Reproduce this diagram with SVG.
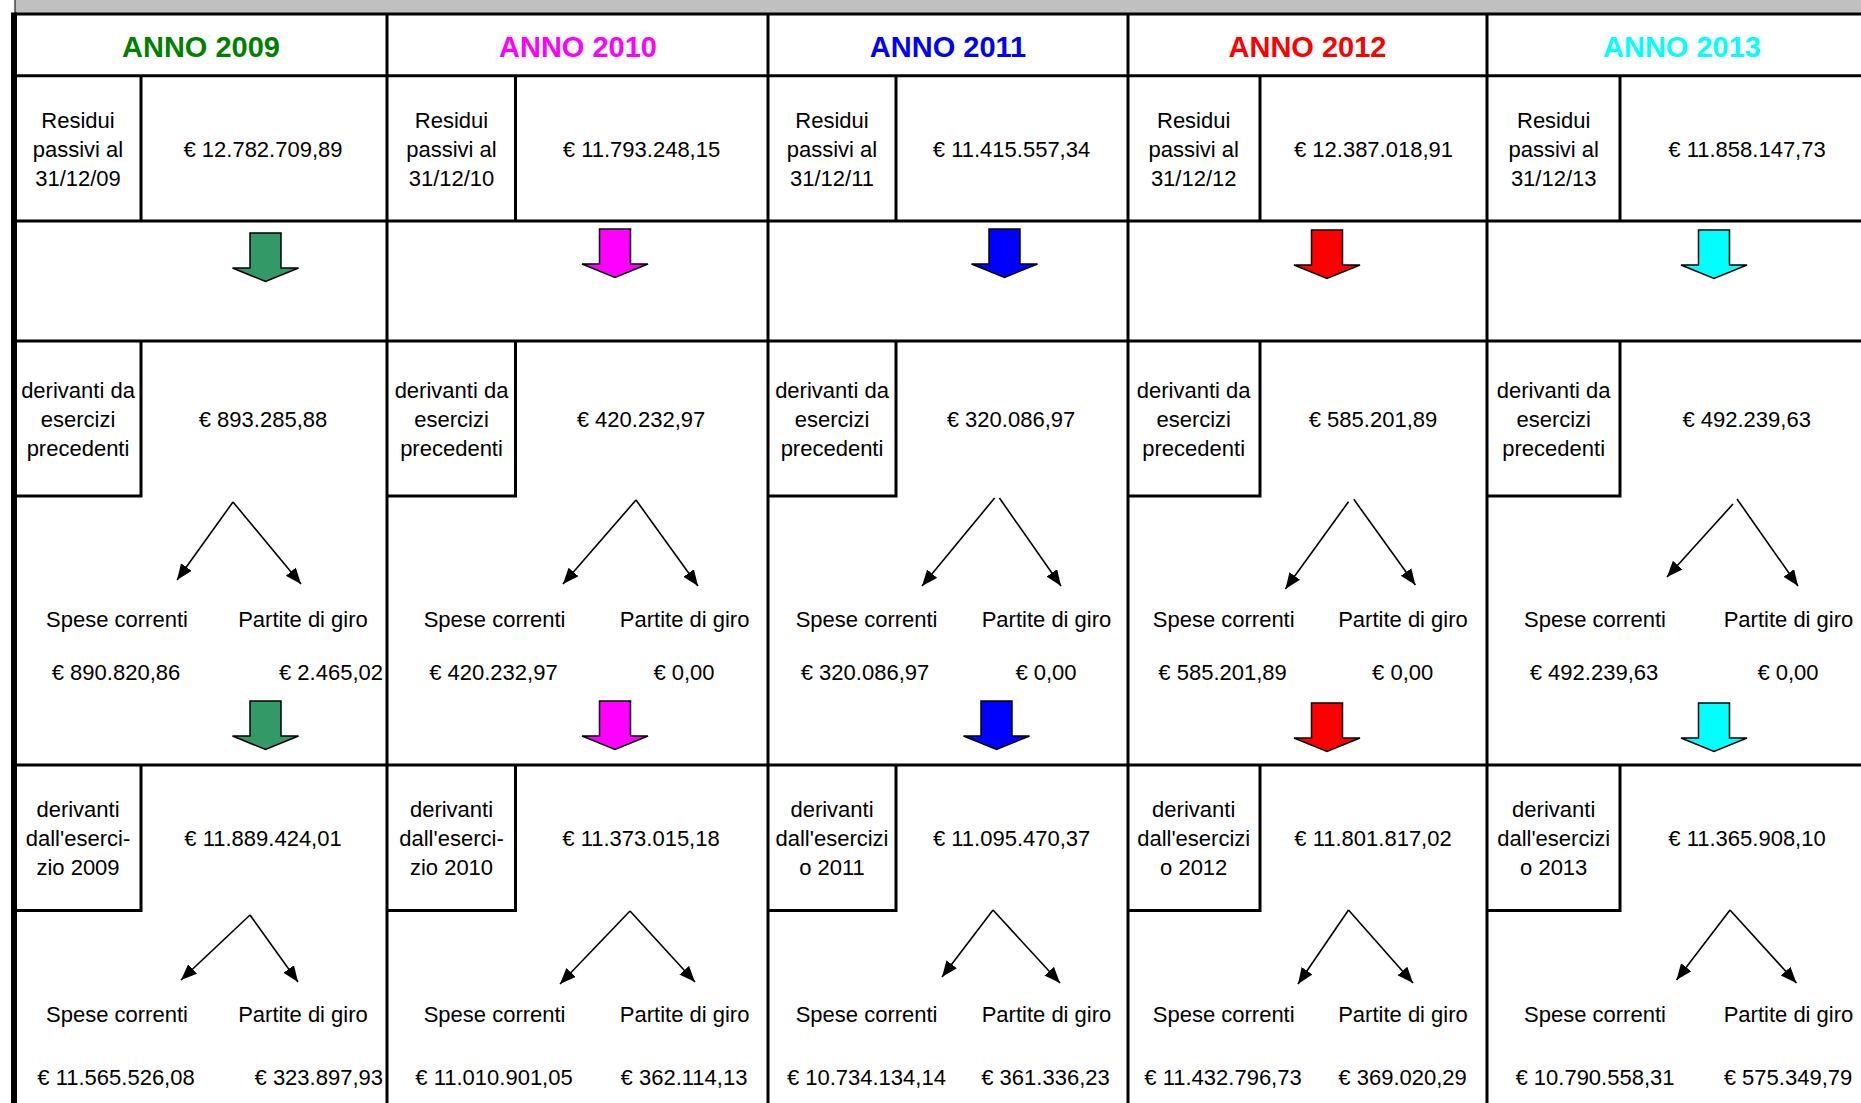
<svg xmlns="http://www.w3.org/2000/svg" width="1861" height="1103" viewBox="0 0 1861 1103">
<defs>
<style>
.grid{stroke:#000;stroke-width:3;fill:none}
.t{font-family:"Liberation Sans",Arial,sans-serif;font-size:22px;fill:#000;text-anchor:middle}
.e{text-anchor:end}
.h{font-family:"Liberation Sans",Arial,sans-serif;font-size:29px;font-weight:bold;text-anchor:middle}
.split{stroke:#000;stroke-width:1.6;fill:none;marker-end:url(#ah)}
.blk{stroke:#000;stroke-width:1.5;stroke-linejoin:miter}
</style>
<marker id="ah" markerUnits="userSpaceOnUse" markerWidth="18" markerHeight="14" refX="16" refY="6.5" orient="auto">
<path d="M0,0 L16,6.5 L0,13 Z" fill="#000"/>
</marker>
<path id="barrow" d="M-15.5,0 H15.5 V35 H33 L0,48.5 L-33,35 H-15.5 Z"/>
</defs>
<rect x="0" y="0" width="1861" height="1103" fill="#fff"/>
<rect x="15" y="0" width="1846" height="13" fill="#c0c0c0"/>
<line x1="15" y1="0" x2="15" y2="13" stroke="#444" stroke-width="1.5"/>

<g id="grid" class="grid">
<line x1="14" y1="14" x2="1861" y2="14"/>
<line x1="14" y1="75.7" x2="1861" y2="75.7"/>
<line x1="14" y1="221" x2="1861" y2="221"/>
<line x1="14" y1="341" x2="1861" y2="341"/>
<line x1="14" y1="765" x2="1861" y2="765"/>
<line x1="14" y1="12.5" x2="14" y2="1103" stroke-width="6"/>
<line x1="387" y1="14" x2="387" y2="1103"/>
<line x1="768" y1="14" x2="768" y2="1103"/>
<line x1="1128" y1="14" x2="1128" y2="1103"/>
<line x1="1487" y1="14" x2="1487" y2="1103"/>
</g>

<g id="col2009">
<g id="h2009"><text class="h" x="201" y="56.5" fill="#008000">ANNO 2009</text></g>
<g id="res2009"><line class="grid" x1="141" y1="75.7" x2="141" y2="221"/>
<text class="t" x="78" y="128">Residui</text><text class="t" x="78" y="157">passivi al</text><text class="t" x="78" y="186">31/12/09</text>
<text class="t" x="263" y="157">€ 12.782.709,89</text></g>
<g id="prec2009"><path class="grid" d="M141,341 V496 H14"/>
<text class="t" x="78" y="398">derivanti da</text><text class="t" x="78" y="427">esercizi</text><text class="t" x="78" y="456">precedenti</text>
<text class="t" x="263" y="427">€ 893.285,88</text>
<text class="t" x="117" y="627">Spese correnti</text><text class="t" x="303" y="627">Partite di giro</text>
<text class="t" x="116" y="680">€ 890.820,86</text><text class="t e" x="383" y="680">€ 2.465,02</text></g>
<g id="cur2009"><path class="grid" d="M141,765 V910.5 H14"/>
<text class="t" x="78" y="817">derivanti</text><text class="t" x="78" y="846">dall'eserci-</text><text class="t" x="78" y="875">zio 2009</text>
<text class="t" x="263" y="846">€ 11.889.424,01</text>
<text class="t" x="117" y="1022">Spese correnti</text><text class="t" x="303" y="1022">Partite di giro</text>
<text class="t" x="116" y="1085">€ 11.565.526,08</text><text class="t e" x="383" y="1085">€ 323.897,93</text></g>
</g>

<g id="col2010">
<g id="h2010"><text class="h" x="578" y="56.5" fill="#ff00ff">ANNO 2010</text></g>
<g id="res2010"><line class="grid" x1="515.5" y1="75.7" x2="515.5" y2="221"/>
<text class="t" x="451.5" y="128">Residui</text><text class="t" x="451.5" y="157">passivi al</text><text class="t" x="451.5" y="186">31/12/10</text>
<text class="t" x="641.5" y="157">€ 11.793.248,15</text></g>
<g id="prec2010"><path class="grid" d="M515.5,341 V496 H387"/>
<text class="t" x="451.5" y="398">derivanti da</text><text class="t" x="451.5" y="427">esercizi</text><text class="t" x="451.5" y="456">precedenti</text>
<text class="t" x="641" y="427">€ 420.232,97</text>
<text class="t" x="494.6" y="627">Spese correnti</text><text class="t" x="684.6" y="627">Partite di giro</text>
<text class="t" x="493.4" y="680">€ 420.232,97</text><text class="t" x="684" y="680">€ 0,00</text></g>
<g id="cur2010"><path class="grid" d="M515.5,765 V910.5 H387"/>
<text class="t" x="451.5" y="817">derivanti</text><text class="t" x="451.5" y="846">dall'eserci-</text><text class="t" x="451.5" y="875">zio 2010</text>
<text class="t" x="641" y="846">€ 11.373.015,18</text>
<text class="t" x="494.6" y="1022">Spese correnti</text><text class="t" x="684.6" y="1022">Partite di giro</text>
<text class="t" x="494" y="1085">€ 11.010.901,05</text><text class="t" x="684" y="1085">€ 362.114,13</text></g>
</g>

<g id="col2011">
<g id="h2011"><text class="h" x="948" y="56.5" fill="#0000ff">ANNO 2011</text></g>
<g id="res2011"><line class="grid" x1="896" y1="75.7" x2="896" y2="221"/>
<text class="t" x="832" y="128">Residui</text><text class="t" x="832" y="157">passivi al</text><text class="t" x="832" y="186">31/12/11</text>
<text class="t" x="1011.5" y="157">€ 11.415.557,34</text></g>
<g id="prec2011"><path class="grid" d="M896,341 V496 H768"/>
<text class="t" x="832" y="398">derivanti da</text><text class="t" x="832" y="427">esercizi</text><text class="t" x="832" y="456">precedenti</text>
<text class="t" x="1011" y="427">€ 320.086,97</text>
<text class="t" x="866.6" y="627">Spese correnti</text><text class="t" x="1046.5" y="627">Partite di giro</text>
<text class="t" x="865" y="680">€ 320.086,97</text><text class="t" x="1046" y="680">€ 0,00</text></g>
<g id="cur2011"><path class="grid" d="M896,765 V910.5 H768"/>
<text class="t" x="832" y="817">derivanti</text><text class="t" x="832" y="846">dall'esercizi</text><text class="t" x="832" y="875">o 2011</text>
<text class="t" x="1011.6" y="846">€ 11.095.470,37</text>
<text class="t" x="866.6" y="1022">Spese correnti</text><text class="t" x="1046.5" y="1022">Partite di giro</text>
<text class="t" x="866.4" y="1085">€ 10.734.134,14</text><text class="t" x="1045.5" y="1085">€ 361.336,23</text></g>
</g>

<g id="col2012">
<g id="h2012"><text class="h" x="1307.5" y="56.5" fill="#ff0000">ANNO 2012</text></g>
<g id="res2012"><line class="grid" x1="1260" y1="75.7" x2="1260" y2="221"/>
<text class="t" x="1193.7" y="128">Residui</text><text class="t" x="1193.7" y="157">passivi al</text><text class="t" x="1193.7" y="186">31/12/12</text>
<text class="t" x="1373.5" y="157">€ 12.387.018,91</text></g>
<g id="prec2012"><path class="grid" d="M1260,341 V496 H1128"/>
<text class="t" x="1193.7" y="398">derivanti da</text><text class="t" x="1193.7" y="427">esercizi</text><text class="t" x="1193.7" y="456">precedenti</text>
<text class="t" x="1373" y="427">€ 585.201,89</text>
<text class="t" x="1223.7" y="627">Spese correnti</text><text class="t" x="1403" y="627">Partite di giro</text>
<text class="t" x="1222.6" y="680">€ 585.201,89</text><text class="t" x="1402.7" y="680">€ 0,00</text></g>
<g id="cur2012"><path class="grid" d="M1260,765 V910.5 H1128"/>
<text class="t" x="1193.7" y="817">derivanti</text><text class="t" x="1193.7" y="846">dall'esercizi</text><text class="t" x="1193.7" y="875">o 2012</text>
<text class="t" x="1373" y="846">€ 11.801.817,02</text>
<text class="t" x="1223.7" y="1022">Spese correnti</text><text class="t" x="1403" y="1022">Partite di giro</text>
<text class="t" x="1223" y="1085">€ 11.432.796,73</text><text class="t" x="1402.6" y="1085">€ 369.020,29</text></g>
</g>

<g id="col2013">
<g id="h2013"><text class="h" x="1682" y="56.5" fill="#00ffff">ANNO 2013</text></g>
<g id="res2013"><line class="grid" x1="1620" y1="75.7" x2="1620" y2="221"/>
<text class="t" x="1553.7" y="128">Residui</text><text class="t" x="1553.7" y="157">passivi al</text><text class="t" x="1553.7" y="186">31/12/13</text>
<text class="t" x="1747" y="157">€ 11.858.147,73</text></g>
<g id="prec2013"><path class="grid" d="M1620,341 V496 H1487"/>
<text class="t" x="1553.7" y="398">derivanti da</text><text class="t" x="1553.7" y="427">esercizi</text><text class="t" x="1553.7" y="456">precedenti</text>
<text class="t" x="1746.7" y="427">€ 492.239,63</text>
<text class="t" x="1595" y="627">Spese correnti</text><text class="t" x="1788.5" y="627">Partite di giro</text>
<text class="t" x="1594" y="680">€ 492.239,63</text><text class="t" x="1788" y="680">€ 0,00</text></g>
<g id="cur2013"><path class="grid" d="M1620,765 V910.5 H1487"/>
<text class="t" x="1553.7" y="817">derivanti</text><text class="t" x="1553.7" y="846">dall'esercizi</text><text class="t" x="1553.7" y="875">o 2013</text>
<text class="t" x="1747" y="846">€ 11.365.908,10</text>
<text class="t" x="1595" y="1022">Spese correnti</text><text class="t" x="1788.5" y="1022">Partite di giro</text>
<text class="t" x="1595" y="1085">€ 10.790.558,31</text><text class="t" x="1788" y="1085">€ 575.349,79</text></g>
</g>

<g id="connectors">
<g class="blk">
<use href="#barrow" x="265.5" y="233" fill="#339966"/>
<use href="#barrow" x="615" y="229" fill="#ff00ff"/>
<use href="#barrow" x="1004.5" y="229" fill="#0000ff"/>
<use href="#barrow" x="1327" y="230" fill="#ff0000"/>
<use href="#barrow" x="1714" y="230" fill="#00ffff"/>
<use href="#barrow" x="265.5" y="701" fill="#339966"/>
<use href="#barrow" x="615" y="701" fill="#ff00ff"/>
<use href="#barrow" x="996.5" y="701" fill="#0000ff"/>
<use href="#barrow" x="1327" y="703" fill="#ff0000"/>
<use href="#barrow" x="1714" y="703" fill="#00ffff"/>
</g>
<path class="split" d="M233,502 L177,580"/><path class="split" d="M233,502 L301,584"/>
<path class="split" d="M636,500 L563,584"/><path class="split" d="M636,500 L698,586"/>
<path class="split" d="M994.6,498 L922,586"/><path class="split" d="M999.4,498 L1061,586"/>
<path class="split" d="M1348.5,501.7 L1285.4,589"/><path class="split" d="M1353.8,499.3 L1415.4,585"/>
<path class="split" d="M1733,504 L1667,577"/><path class="split" d="M1737,499 L1798,586"/>
<path class="split" d="M250,915 L181,980"/><path class="split" d="M250,915 L298,982"/>
<path class="split" d="M630,911 L560,984"/><path class="split" d="M630,911 L695,982"/>
<path class="split" d="M993,910 L942,977"/><path class="split" d="M993,910 L1060,983"/>
<path class="split" d="M1348.5,910 L1298,984"/><path class="split" d="M1348.5,910 L1413,983"/>
<path class="split" d="M1730,910 L1676.5,980"/><path class="split" d="M1730,910 L1796.4,983"/>
</g>
</svg>
